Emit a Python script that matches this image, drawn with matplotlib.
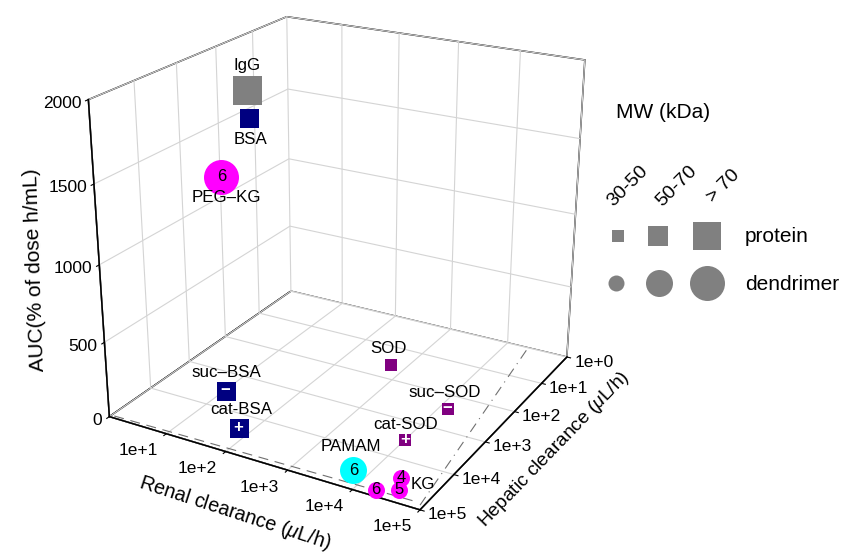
"""AUC en fonction des clairances rénale et hépatique (protéines et dendrimères)."""

import numpy as np
import matplotlib.pyplot as plt
from mpl_toolkits.mplot3d import proj3d

plt.rcParams['font.family'] = ['Liberation Sans', 'DejaVu Sans']
plt.rcParams['mathtext.fontset'] = 'custom'
plt.rcParams['mathtext.rm'] = 'Liberation Sans'
plt.rcParams['mathtext.it'] = 'Liberation Sans:italic'
plt.rcParams['grid.color'] = '#d4d4d4'
plt.rcParams['grid.linewidth'] = 0.8

# --- données ---------------------------------------------------------------
noms = ["IgG", "BSA", "PEG–KG", "suc–BSA", "cat-BSA", "SOD", "suc–SOD",
        "cat-SOD", "PAMAM", "KG", "", ""]
marques = ["", "", "6", "−", "+", "", "−", "+", "6", "4", "5", "6"]
types = ["protein", "protein", "dendrimer", "protein", "protein", "protein",
         "protein", "protein", "dendrimer", "dendrimer", "dendrimer", "dendrimer"]
classe_mw = [3, 2, 3, 2, 2, 1, 1, 1, 2, 1, 1, 1]   # 1: 30-50, 2: 50-70, 3: > 70 kDa
familles = ["IgG", "BSA", "KG", "BSA", "BSA", "SOD", "SOD", "SOD", "PAMAM",
            "KG", "KG", "KG"]

clairance_renale = [25, 27, 19, 11, 65, 600, 13800, 10500, 6200, 27500, 36300, 19500]
clairance_hepatique = [2140, 2140, 6760, 3630, 24500, 41, 270, 3400, 39800,
                       28800, 55000, 77600]
auc = [1957, 1793, 1482, 10, 10, 10, 10, 10, 10, 10, 10, 10]

ticks_renal = [1, 2, 3, 4, 5]
ticks_hepatique = [0, 1, 2, 3, 4, 5]
ticks_auc = [0, 500, 1000, 1500, 2000]

# lignes de référence au sol (log10 clairance hépatique, log10 clairance rénale)
ligne_tiret = ([4.95, 4.85], [0.05, 4.9])
ligne_tiret_point = ([4.9, 0.0], [4.95, 4.35])

classes_legende = ["30-50", "50-70", "> 70"]

# --- style -----------------------------------------------------------------
COULEURS = {"IgG": "#808080", "BSA": "#000080", "SOD": "#800080",
            "KG": "#ff00ff", "PAMAM": "#00ffff"}
TAILLE_PX = {"protein": {1: 12, 2: 19, 3: 29}, "dendrimer": {1: 17, 2: 27, 3: 35}}
FORME = {"protein": "s", "dendrimer": "o"}
DECALAGE_LABEL = {"IgG": (0, -24, "center"), "BSA": (1, 22, "center"),
                  "PEG–KG": (5, 21, "center"), "suc–BSA": (1, -18, "center"),
                  "cat-BSA": (3, -18, "center"), "SOD": (-3, -16, "center"),
                  "suc–SOD": (-3, -16, "center"), "cat-SOD": (0, -15, "center"),
                  "PAMAM": (-3, -24, "center"), "KG": (10, 7, "left")}


def surface(px):
    return (px * 72 / 100) ** 2


fig = plt.figure(figsize=(8.42, 5.54), dpi=100)
ax = fig.add_axes([0.046, 0.0345, 0.713, 1.0416], projection='3d')
ax.view_init(elev=22.5, azim=29.5)
ax.set_proj_type('persp', focal_length=0.5)
ax.set_box_aspect((1, 1, 0.95))

x = np.log10(clairance_hepatique)
y = np.log10(clairance_renale)

for i in range(len(noms)):
    ax.scatter([x[i]], [y[i]], [auc[i]], marker=FORME[types[i]],
               s=surface(TAILLE_PX[types[i]][classe_mw[i]]),
               color=COULEURS[familles[i]], linewidths=0, depthshade=False)

ax.plot(ligne_tiret[0], ligne_tiret[1], [0, 0], color='#707070', lw=0.8,
        ls=(0, (9, 6)))
ax.plot(ligne_tiret_point[0], ligne_tiret_point[1], [0, 0], color='#707070',
        lw=0.8, ls=(0, (9, 5, 1, 5)))

ax.set_xlim(0, 5)
ax.set_ylim(0, 5)
ax.set_zlim(0, 2000)
ax.set_xticks(ticks_hepatique)
ax.set_yticks(ticks_renal)
ax.set_zticks(ticks_auc)
ax.set_xticklabels([])
ax.set_yticklabels([])
ax.set_zticklabels([])

for axe in (ax.xaxis, ax.yaxis, ax.zaxis):
    axe.set_pane_color((1, 1, 1, 1))
    axe.pane.set_alpha(1.0)
    axe.pane.set_edgecolor('black')
    axe.pane.set_linewidth(1.1)
    axe.line.set_color('black')
    axe.line.set_linewidth(1.1)
    axe._axinfo['tick']['inward_factor'] = 0.15
    axe._axinfo['tick']['outward_factor'] = 0.0

# calque 2D en pixels pour les textes
leg = fig.add_axes([0, 0, 1, 1], zorder=5)
leg.set_xlim(0, 842)
leg.set_ylim(554, 0)
leg.axis('off')

fig.canvas.draw()


def vers_pixels(xs, ys, zs):
    px, py, _ = proj3d.proj_transform(np.asarray(xs, float), np.asarray(ys, float),
                                      np.asarray(zs, float), ax.M)
    ecran = ax.transData.transform(np.column_stack([px, py]))
    return leg.transData.inverted().transform(ecran)


# étiquettes des graduations
n = len(ticks_hepatique)
for (xc, yc), t in zip(vers_pixels(ticks_hepatique, [5] * n, [0] * n), ticks_hepatique):
    leg.text(xc + 27, yc + 5, f"1e+{t}", ha='center', va='center', fontsize=12.5)
n = len(ticks_renal)
for (xc, yc), t in zip(vers_pixels([5] * n, ticks_renal, [0] * n), ticks_renal):
    leg.text(xc - 28, yc + 17, f"1e+{t}", ha='center', va='center', fontsize=12.5)
n = len(ticks_auc)
for (xc, yc), t in zip(vers_pixels([5] * n, [0] * n, ticks_auc), ticks_auc):
    leg.text(xc - 7, yc + 4, str(t), ha='right', va='center', fontsize=12.5)

# textes des points
pos = vers_pixels(x, y, auc)
for i in range(len(noms)):
    xc, yc = pos[i]
    if marques[i]:
        blanc = marques[i] in ("−", "+")
        leg.text(xc, yc, marques[i], ha='center', va='center',
                 fontsize=12, fontweight='bold' if blanc else 'normal',
                 color='white' if blanc else 'black')
    if noms[i]:
        dx, dy, ha = DECALAGE_LABEL[noms[i]]
        leg.text(xc + dx, yc + dy, noms[i], ha=ha, va='center', fontsize=12.2)

# titres des axes
leg.text(235, 513, r"Renal clearance ($\mu$L/h)", ha='center', va='center',
         rotation=-18, rotation_mode='anchor', fontsize=14.2)
leg.text(554, 450, r"Hepatic clearance ($\mu$L/h)", ha='center', va='center',
         rotation=46, rotation_mode='anchor', fontsize=13.8)
leg.text(35, 270, "AUC(% of dose h/mL)", ha='center', va='center',
         rotation=92, rotation_mode='anchor', fontsize=15)

# --- légende des tailles -----------------------------------------------------
leg.text(663, 112, "MW (kDa)", ha='center', va='center', fontsize=15)
for k, txt in enumerate(classes_legende):
    leg.text([628, 677, 723][k], 186, txt, ha='center', va='center', rotation=45,
             rotation_mode='anchor', fontsize=14)
    leg.scatter([[618, 658, 707][k]], [236], marker='s', color='#808080',
                s=surface([12, 20, 28][k]), linewidths=0)
    leg.scatter([[616, 659, 707][k]], [283], marker='o', color='#808080',
                s=surface([16, 27, 35][k]), linewidths=0)
leg.text(745, 237, "protein", ha='left', va='center', fontsize=15)
leg.text(745, 284, "dendrimer", ha='left', va='center', fontsize=15)

fig.savefig("out.png", dpi=100)
